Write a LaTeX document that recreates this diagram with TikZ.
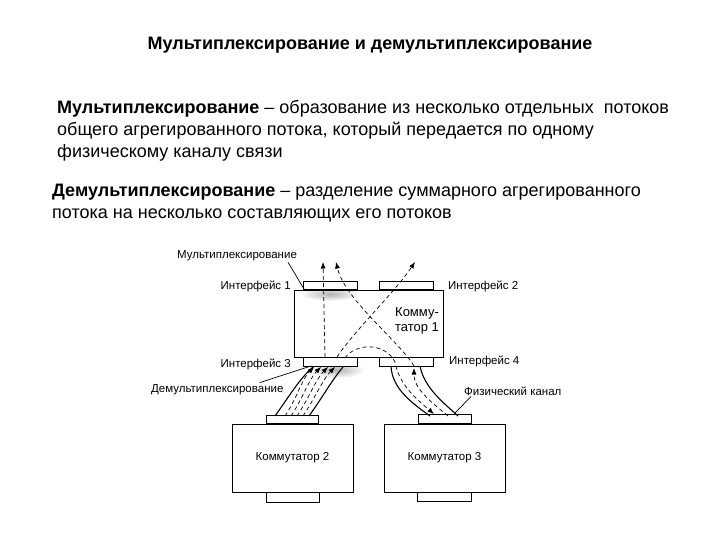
\documentclass[tikz,border=0pt]{standalone}
\usepackage{fontspec}
\setmainfont{Liberation Sans}
\usetikzlibrary{arrows.meta,calc,positioning}
\tikzset{
  switchbox/.style={draw,line width=0.8pt,inner sep=0pt,font=\fontsize{11.5}{13}\selectfont},
  pad/.style={draw,fill=white,line width=0.8pt,inner sep=0pt,minimum width=54pt,minimum height=8pt},
  lbl/.style={inner sep=1pt,font=\fontsize{11.5}{13}\selectfont},
  edge/.style={line width=1.1pt},
  flow/.style={line width=0.7pt,dash pattern=on 4pt off 3pt},
  flowtip/.style={-{Latex[length=6.5pt,width=5pt]}}
}

\begin{document}
\begin{tikzpicture}[x=1pt,y=-1pt]
  \useasboundingbox (0,0) rectangle (720,540);
  % heading and definitions
  \node[font=\fontsize{18}{20}\selectfont\bfseries] (title) at (370,45) {Мультиплексирование и демультиплексирование};
  \node[anchor=north west,align=left,inner sep=0pt,font=\fontsize{18}{22}\selectfont] (muxdef) at (57,100.5)
    {\textbf{Мультиплексирование} – образование из несколько отдельных\ \ потоков\\общего агрегированного потока, который передается по одному\\физическому каналу связи};
  \node[anchor=north west,align=left,inner sep=0pt,font=\fontsize{18}{22}\selectfont] (demuxdef) at (52,183.5)
    {\textbf{Демультиплексирование} – разделение суммарного агрегированного\\потока на несколько составляющих его потоков};
  % soft grey spots
  \shade[inner color=gray!60,outer color=white] (330,294) ellipse [x radius=30pt,y radius=7pt];
  \shade[inner color=gray!60,outer color=white] (337,370) ellipse [x radius=28pt,y radius=8pt];
  % switch 1 with its four interfaces
  \node[pad,anchor=south west] (if1) at (303,290) {};
  \node[pad,anchor=south west] (if2) at (379,290) {};
  \node[pad,anchor=north west,minimum height=9pt] (if3) at (303,357) {};
  \node[pad,anchor=north west,minimum height=9pt] (if4) at (379,357) {};
  \node[switchbox,minimum width=149pt,minimum height=67pt] (k1) at (368.5,323.5) {};
  \node[lbl,align=center,font=\fontsize{13}{14.5}\selectfont] (k1lbl) at (417,321) {Комму-\\татор 1};
  \node[lbl,left=11pt of if1,yshift=-1pt] (if1lbl) {Интерфейс 1};
  \node[lbl,right=13pt of if2,yshift=-1pt] (if2lbl) {Интерфейс 2};
  \node[lbl,left=11pt of if3,yshift=-2.5pt] (if3lbl) {Интерфейс 3};
  \node[lbl,anchor=west] (if4lbl) at (448,361) {Интерфейс 4};
  % switches 2 and 3
  \node[switchbox,minimum width=121pt,minimum height=68pt] (k2) at (292.5,458) {Коммутатор 2};
  \node[pad,anchor=south,minimum width=52pt] (k2top) at (k2.north) {};
  \node[pad,anchor=north,minimum width=53pt,minimum height=10pt] (k2bot) at (k2.south) {};
  \node[switchbox,minimum width=121pt,minimum height=68pt] (k3) at (444.5,458) {Коммутатор 3};
  \node[pad,anchor=south,minimum width=53pt,minimum height=9pt] (k3top) at (k3.north) {};
  \node[pad,anchor=north,minimum width=54pt,minimum height=9pt] (k3bot) at (k3.south) {};
  % physical channels
  \draw[edge] (275,416) .. controls (288,398) and (300,378) .. (313,367);
  \draw[edge] (309,416) .. controls (322,398) and (332,380) .. (343,367);
  \draw[edge] (391,366) .. controls (392,390) and (415,405) .. (430,416);
  \draw[edge] (420,366) .. controls (424,388) and (445,404) .. (458,416);
  % flows in channel 1
  \foreach \b/\t in {285/314,291/321,297/328,303/335}
    \draw[flow,flowtip] (\b,416) .. controls (\b+12,398) and (\t-12,379) .. (\t,367);
  % flows through switch 1
  \draw[flow,flowtip] (325,357) -- (323,262);
  \draw[flow,flowtip] (337,357) .. controls (355,330) and (395,292) .. (415,262);
  \draw[flow,flowtip] (345,358) .. controls (355,343) and (385,342) .. (395,362)
     .. controls (399,386) and (420,402) .. (434,414);
  \draw[flow,flowtip] (448,416) .. controls (434,404) and (414,390) .. (414,368);
  \draw[flow,flowtip] (414,366) .. controls (398,340) and (345,300) .. (336,262);
  % callouts
  \node[lbl,anchor=west] (muxlbl) at (176,256) {Мультиплексирование};
  \coordinate (muxpt) at (304,289);
  \draw[line width=0.7pt] ($(muxlbl.south east)+(-10,0)$) -- (muxpt);
  \node[lbl,anchor=west] (demuxlbl) at (150,390) {Демультиплексирование};
  \coordinate (demuxpt) at (311,366);
  \draw[line width=0.7pt] ($(demuxlbl.north east)+(-25,-1)$) -- (demuxpt);
  \node[lbl,anchor=west] (chanlbl) at (463,391) {Физический канал};
  \coordinate (chanpt) at (455,413);
  \draw[line width=0.7pt] ($(chanlbl.south west)+(8,0)$) -- (chanpt);
\end{tikzpicture}
\end{document}
